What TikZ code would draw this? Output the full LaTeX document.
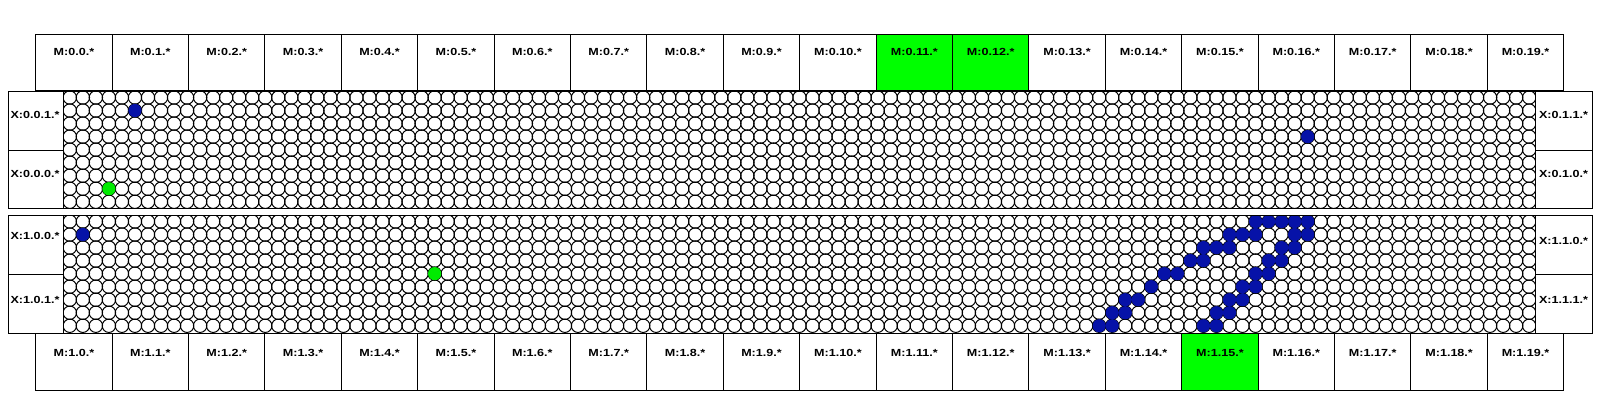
\documentclass[tikz,border=0pt]{standalone}
\usepackage{fontspec}
\setmainfont{Liberation Sans}
\usepackage{graphicx}
\definecolor{hotgreen}{RGB}{0,255,0}
\definecolor{dotblue}{RGB}{6,18,168}
\definecolor{dotgreen}{RGB}{0,235,0}
\newcommand{\lbl}[1]{\scalebox{1.22}[1]{\fontsize{10.3}{12}\selectfont\bfseries #1}}
\tikzset{
  cellbox/.style={draw=black, line width=0.9pt, rectangle, inner sep=0pt, outer sep=0pt},
  lbltext/.style={anchor=base, inner sep=0pt, outer sep=0pt},
  gridcirc/.style={draw=black, line width=1pt},
}
\begin{document}
\begin{tikzpicture}[x=1pt,y=-1pt]
\useasboundingbox[fill=white] (0,0) rectangle (1600,400);
\def\s{13.03}
% grid circles
\foreach \top in {91,215}{
  \foreach \r in {0,...,8}{
    \foreach \c in {0,...,112}{
      \draw[gridcirc] ({63.3+\s*(\c+0.5)},{\top+\s*(\r+0.5)}) circle[radius=6.7];
    }
  }
}
% colored dots
\newcommand{\dotat}[4]{\fill[#4] ({63.3+\s*(#2+0.5)},{#1+\s*(#3+0.5)}) circle[radius=6.6];}
\dotat{91}{5}{1}{dotblue}
\dotat{91}{3}{7}{dotgreen}
\dotat{91}{95}{3}{dotblue}
\dotat{215}{1}{1}{dotblue}
\dotat{215}{28}{4}{dotgreen}
\foreach \c/\r in {91/0,92/0,93/0,94/0,95/0,
  89/1,90/1,91/1,94/1,95/1,
  87/2,88/2,89/2,93/2,94/2,
  86/3,87/3,92/3,93/3,
  84/4,85/4,91/4,92/4,
  83/5,90/5,91/5,
  81/6,82/6,89/6,90/6,
  80/7,81/7,88/7,89/7,
  79/8,80/8,87/8,88/8}{
  \dotat{215}{\c}{\r}{dotblue}
}
% region outlines (white strips hide circle overhang)
\fill[white] (0,208.3) rectangle (1600,215);
\draw[line width=0.9pt] (8.3,91) rectangle (1592,208.3);
\draw[line width=0.9pt] (8.3,215) rectangle (1592,333.3);
% X boxes
\node[cellbox, fill=white, minimum width=55pt, minimum height=59pt, anchor=north west] (xl001) at (8.3,91) {};
\node[cellbox, fill=white, minimum width=55pt, minimum height=58.3pt, anchor=north west] (xl000) at (8.3,150) {};
\node[cellbox, fill=white, minimum width=55pt, minimum height=59pt, anchor=north west] (xl100) at (8.3,215) {};
\node[cellbox, fill=white, minimum width=55pt, minimum height=59.3pt, anchor=north west] (xl101) at (8.3,274) {};
\node[cellbox, fill=white, minimum width=57pt, minimum height=59pt, anchor=north west] (xr011) at (1535,91) {};
\node[cellbox, fill=white, minimum width=57pt, minimum height=58.3pt, anchor=north west] (xr010) at (1535,150) {};
\node[cellbox, fill=white, minimum width=57pt, minimum height=59pt, anchor=north west] (xr110) at (1535,215) {};
\node[cellbox, fill=white, minimum width=57pt, minimum height=59.3pt, anchor=north west] (xr111) at (1535,274) {};
\node[lbltext] (txl001) at (35,118.5) {\lbl{X:0.0.1.*}};
\node[lbltext] (txl000) at (35,177.5) {\lbl{X:0.0.0.*}};
\node[lbltext] (txl100) at (35,239) {\lbl{X:1.0.0.*}};
\node[lbltext] (txl101) at (35,303.5) {\lbl{X:1.0.1.*}};
\node[lbltext] (txr011) at (1563.5,118) {\lbl{X:0.1.1.*}};
\node[lbltext] (txr010) at (1563.5,177.5) {\lbl{X:0.1.0.*}};
\node[lbltext] (txr110) at (1563.5,244) {\lbl{X:1.1.0.*}};
\node[lbltext] (txr111) at (1563.5,303) {\lbl{X:1.1.1.*}};
% M boxes
\foreach \i in {0,...,19}{
  \pgfmathsetmacro{\xl}{35.7+76.4*\i}
  \pgfmathsetmacro{\xc}{35.7+76.4*(\i+0.5)}
  \def\tfill{white}
  \ifnum\i=11 \def\tfill{hotgreen}\fi
  \ifnum\i=12 \def\tfill{hotgreen}\fi
  \def\bfill{white}
  \ifnum\i=15 \def\bfill{hotgreen}\fi
  \node[cellbox, fill=\tfill, minimum width=76.4pt, minimum height=56.4pt, anchor=north west] (mt\i) at (\xl,34.3) {};
  \node[lbltext] (mtt\i) at (\xc,55.5) {\lbl{M:0.\i.*}};
  \node[cellbox, fill=\bfill, minimum width=76.4pt, minimum height=56.7pt, anchor=north west] (mb\i) at (\xl,333.3) {};
  \node[lbltext] (mbt\i) at (\xc,356.5) {\lbl{M:1.\i.*}};
}
\end{tikzpicture}
\end{document}
